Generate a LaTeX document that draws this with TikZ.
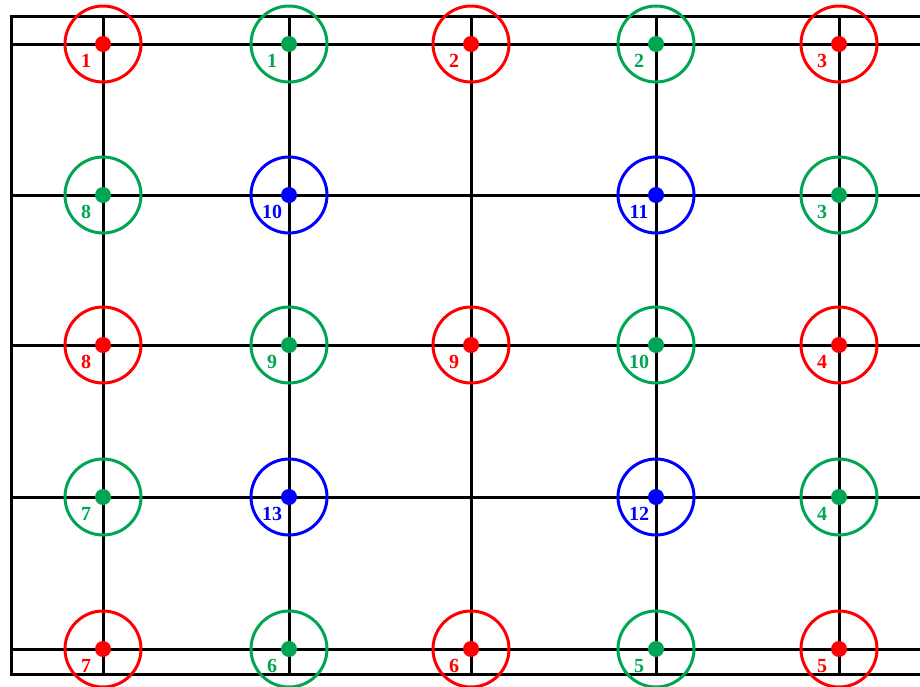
\documentclass[tikz,border=0pt]{standalone}
\usepackage{fontspec}
\setmainfont{Liberation Serif}
\definecolor{sitegreen}{RGB}{0,166,81}
\tikzset{
  ring/.style={circle, draw=#1, line width=2.25pt, minimum size=57pt, inner sep=0pt},
  dot/.style={circle, fill=#1, minimum size=12pt, inner sep=0pt},
  num/.style={text=#1, font=\fontsize{15}{15}\selectfont\bfseries, inner sep=0pt},
  grid line/.style={line width=2.25pt},
}
\begin{document}
\begin{tikzpicture}[x=0.75pt, y=-0.75pt]
    \useasboundingbox (0,0) rectangle (920,686);
    \clip (0,0) rectangle (920,686);

    % Frame and grid lines
    \draw[grid line] (11,16) rectangle (940,674);
    \foreach \y in {44,195,345,497,649}
        \draw[grid line] (11,\y) -- (940,\y);
    \foreach \x in {103,289,471,656,839}
        \draw[grid line] (\x,16) -- (\x,674);

    % Sites: ring, centre dot and number
    \foreach \x/\y/\c/\n [count=\i] in {
        103/44/red/1, 289/44/sitegreen/1, 471/44/red/2, 656/44/sitegreen/2, 839/44/red/3,
        103/195/sitegreen/8, 289/195/blue/10, 656/195/blue/11, 839/195/sitegreen/3,
        103/345/red/8, 289/345/sitegreen/9, 471/345/red/9, 656/345/sitegreen/10, 839/345/red/4,
        103/497/sitegreen/7, 289/497/blue/13, 656/497/blue/12, 839/497/sitegreen/4,
        103/649/red/7, 289/649/sitegreen/6, 471/649/red/6, 656/649/sitegreen/5, 839/649/red/5} {
        \node[ring=\c] (ring-\i) at (\x,\y) {};
        \node[dot=\c] (dot-\i) at (ring-\i.center) {};
        \node[num=\c] (num-\i) at (\x-17,\y+17) {\n};
    }
\end{tikzpicture}
\end{document}
